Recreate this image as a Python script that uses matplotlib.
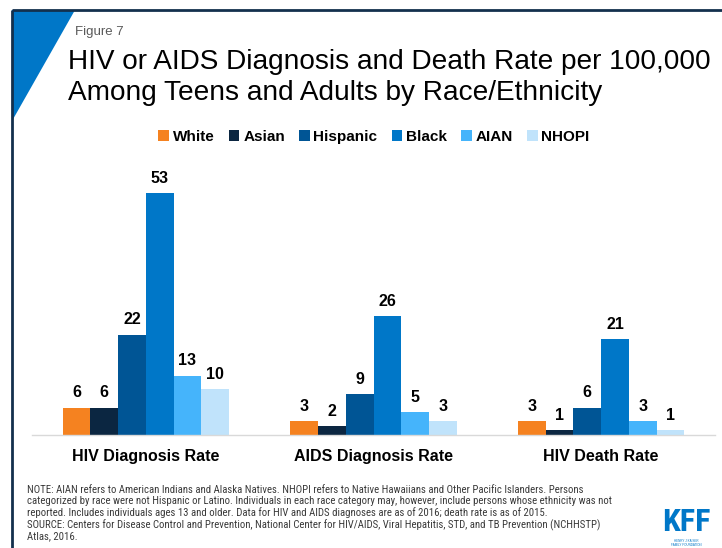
import matplotlib
matplotlib.use("Agg")
import matplotlib.pyplot as plt
from matplotlib import font_manager
from matplotlib.patches import Polygon
import numpy as np

plt.rcParams['font.family'] = ['Liberation Sans', 'DejaVu Sans']

categories = ["HIV Diagnosis Rate", "AIDS Diagnosis Rate", "HIV Death Rate"]
groups = ["White", "Asian", "Hispanic", "Black", "AIAN", "NHOPI"]
white = [6, 3, 3]
asian = [6, 2, 1]
hispanic = [22, 9, 6]
black = [53, 26, 21]
aian = [13, 5, 3]
nhopi = [10, 3, 1]
series = [white, asian, hispanic, black, aian, nhopi]
colors = ["#f58220", "#0b2641", "#005595", "#0077c8", "#45b4fb", "#c0e3fb"]

# pick a narrow face for the footnote if one is installed
installed = {f.name for f in font_manager.fontManager.ttflist}
narrow = None
for cand in ["Liberation Sans Narrow", "Arial Narrow", "Roboto Condensed",
             "DejaVu Sans Condensed", "Open Sans Condensed"]:
    if cand in installed:
        narrow = cand
        break

W, H = 722, 548
fig = plt.figure(figsize=(W / 100, H / 100), dpi=100)

# background layer in pixel coordinates
bg = fig.add_axes([0, 0, 1, 1])
bg.set_xlim(0, W)
bg.set_ylim(H, 0)
bg.axis("off")
bg.plot([12, W], [10, 10], color="#13304d", lw=2, solid_capstyle="butt")
bg.plot([12, 12], [10, H], color="#13304d", lw=2, solid_capstyle="butt")
bg.add_patch(Polygon([[12, 10], [75, 10], [12, 121]], closed=True,
                     color="#0077c8", lw=0))

bg.text(75, 32, "Figure 7", fontsize=9.5, color="#595959", va="center", ha="left")
bg.text(68, 69, "HIV or AIDS Diagnosis and Death Rate per 100,000",
        fontsize=20.2, color="#000000", va="baseline", ha="left")
bg.text(68, 100, "Among Teens and Adults by Race/Ethnicity",
        fontsize=20.2, color="#000000", va="baseline", ha="left")

# bar chart area
left, right, top, bottom = 32, 715, 160, 435
ax = fig.add_axes([left / W, 1 - bottom / H, (right - left) / W, (bottom - top) / H])
x = np.arange(len(categories))
n = len(series)
width = 0.73 / n
for i, (name, vals, c) in enumerate(zip(groups, series, colors)):
    pos = x + (i - (n - 1) / 2) * width
    bars = ax.bar(pos, vals, width=width, color=c, label=name, edgecolor="none")
    for b, v in zip(bars, vals):
        ax.text(b.get_x() + b.get_width() / 2, v + 1.6, f"{v:g}",
                ha="center", va="bottom", fontsize=11.5, fontweight="bold",
                color="#000000")
ax.set_xlim(-0.5, 2.5)
ax.set_ylim(0, 60.2)
ax.set_yticks([])
ax.set_xticks(x)
ax.set_xticklabels(categories, fontsize=11.5, fontweight="bold")
ax.tick_params(axis="x", length=0, pad=10)
for s in ["top", "right", "left"]:
    ax.spines[s].set_visible(False)
ax.spines["bottom"].set_color("#d9d9d9")
ax.spines["bottom"].set_linewidth(1)

leg = fig.legend(loc="center", bbox_to_anchor=(374 / W, 1 - 137 / H), ncol=6,
                 frameon=False, handlelength=0.7, handleheight=0.7,
                 handletextpad=0.25, columnspacing=0.92,
                 prop={"size": 11, "weight": "bold"})

note = ("NOTE: AIAN refers to American Indians and Alaska Natives. NHOPI refers to Native Hawaiians and Other Pacific Islanders. Persons\n"
        "categorized by race were not Hispanic or Latino. Individuals in each race category may, however, include persons whose ethnicity was not\n"
        "reported. Includes individuals ages 13 and older. Data for HIV and AIDS diagnoses are as of 2016; death rate is as of 2015.\n"
        "SOURCE: Centers for Disease Control and Prevention, National Center for HIV/AIDS, Viral Hepatitis, STD, and TB Prevention (NCHHSTP)\n"
        "Atlas, 2016.")
if narrow:
    note_kw = dict(fontsize=7.75, family=[narrow, "Liberation Sans"], linespacing=1.12)
else:
    note_kw = dict(fontsize=6.3, linespacing=1.36)
bg.text(27, 485, note, color="#3a3a3a", va="top", ha="left", **note_kw)

logo_family = [narrow, "Liberation Sans"] if narrow else ["Liberation Sans"]
bg.text(686, 531, "KFF", fontsize=23 if narrow else 18.5, fontweight="bold",
        color="#0077c8", ha="center", va="baseline", family=logo_family)
bg.text(686, 538.5, "HENRY J KAISER\nFAMILY FOUNDATION", fontsize=2.2,
        color="#0077c8", ha="center", va="top", linespacing=1.1)

fig.savefig("out.png", dpi=100)
